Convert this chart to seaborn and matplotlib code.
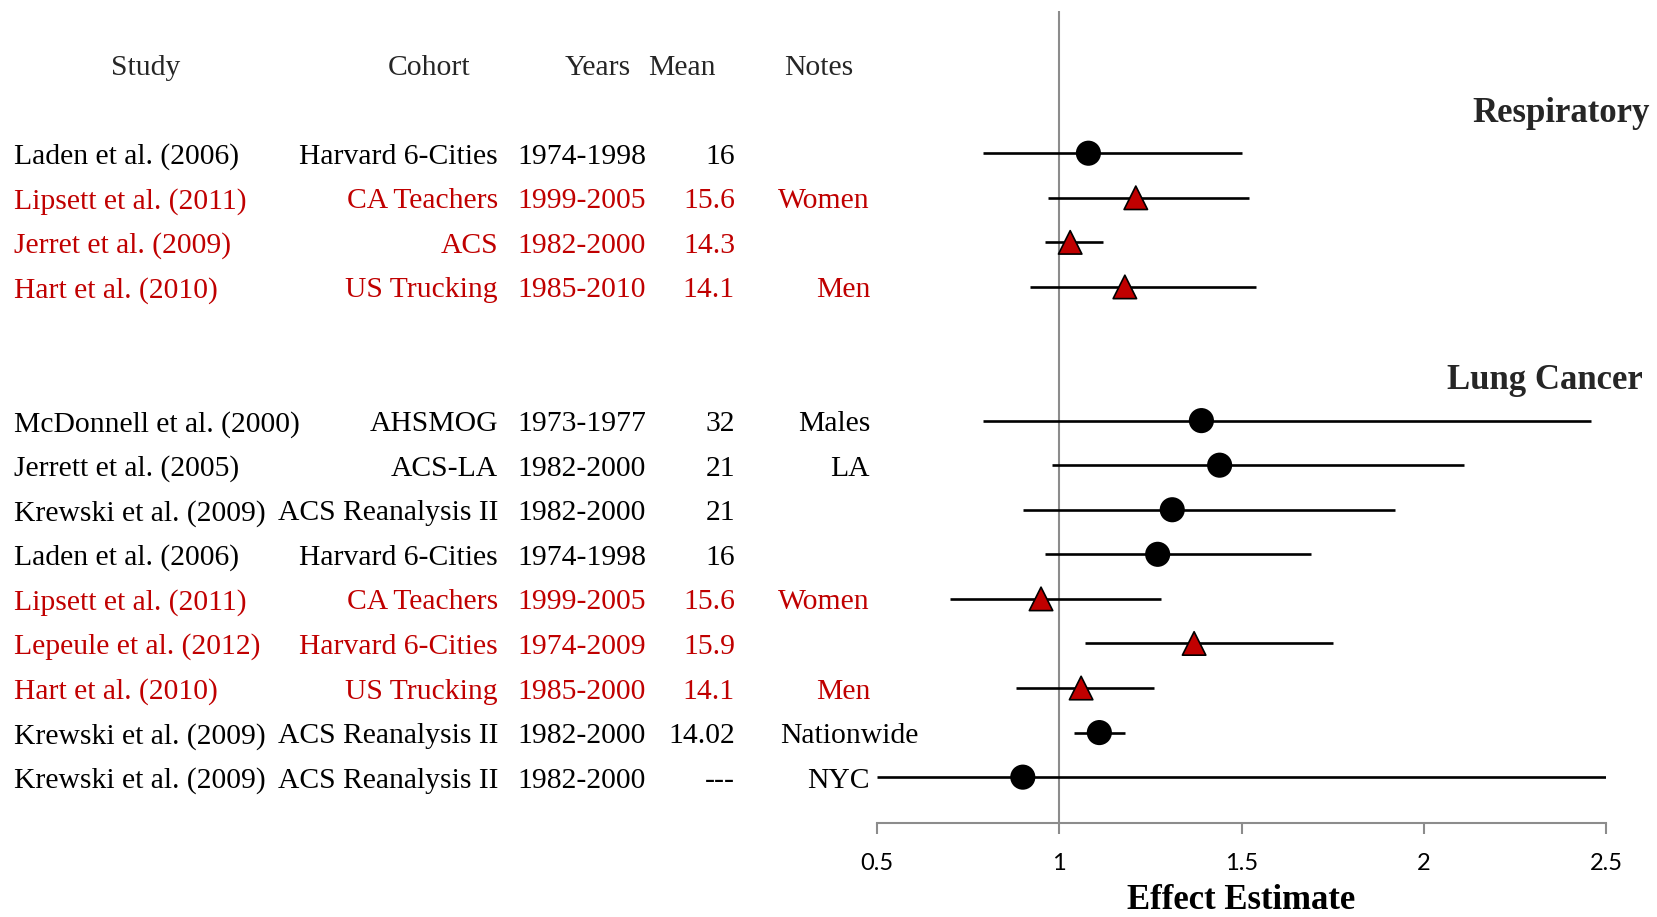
import matplotlib
matplotlib.use("Agg")
import matplotlib.pyplot as plt
import matplotlib.transforms as mtransforms
import numpy as np
import pandas as pd
import seaborn as sns

# ---- study table -------------------------------------------------------
outcome = ["Respiratory"] * 4 + ["Lung Cancer"] * 9
studies = [
    "Laden et al. (2006)", "Lipsett et al. (2011)", "Jerret et al. (2009)", "Hart et al. (2010)",
    "McDonnell et al. (2000)", "Jerrett et al. (2005)", "Krewski et al. (2009)",
    "Laden et al. (2006)", "Lipsett et al. (2011)", "Lepeule et al. (2012)",
    "Hart et al. (2010)", "Krewski et al. (2009)", "Krewski et al. (2009)",
]
cohorts = [
    "Harvard 6-Cities", "CA Teachers", "ACS", "US Trucking",
    "AHSMOG", "ACS-LA", "ACS Reanalysis II", "Harvard 6-Cities", "CA Teachers",
    "Harvard 6-Cities", "US Trucking", "ACS Reanalysis II", "ACS Reanalysis II",
]
years = [
    "1974-1998", "1999-2005", "1982-2000", "1985-2010",
    "1973-1977", "1982-2000", "1982-2000", "1974-1998", "1999-2005",
    "1974-2009", "1985-2000", "1982-2000", "1982-2000",
]
means = ["16", "15.6", "14.3", "14.1",
         "32", "21", "21", "16", "15.6", "15.9", "14.1", "14.02", "---"]
notes = ["", "Women", "", "Men",
         "Males", "LA", "", "", "Women", "", "Men", "Nationwide", "NYC"]
estimate = [1.08, 1.21, 1.03, 1.18,
            1.39, 1.44, 1.31, 1.27, 0.95, 1.37, 1.06, 1.11, 0.90]
lower = [0.79, 0.97, 0.96, 0.92,
         0.79, 0.98, 0.90, 0.96, 0.70, 1.07, 0.88, 1.04, 0.50]
upper = [1.50, 1.52, 1.12, 1.54,
         2.46, 2.11, 1.92, 1.69, 1.28, 1.75, 1.26, 1.18, 2.50]
highlight = [False, True, True, True,
             False, False, False, False, True, True, True, False, False]

headers = ["Study", "Cohort", "Years", "Mean", "Notes"]
groups = ["Respiratory", "Lung Cancer"]
x_ticks = [0.5, 1, 1.5, 2, 2.5]

df = pd.DataFrame({
    "outcome": outcome, "study": studies, "cohort": cohorts, "years": years,
    "mean": means, "notes": notes, "estimate": estimate,
    "lower": lower, "upper": upper, "highlight": highlight,
})

# rows: the two outcome blocks are separated by a gap of two rows
row = []
r = 0
for i, g in enumerate(df["outcome"]):
    if i > 0 and g != df["outcome"][i - 1]:
        r += 2
    row.append(r)
    r += 1
df["row"] = row
df["kind"] = np.where(df["highlight"], "red", "black")

RED = "#C00000"
W, H = 1658, 917
serif = ["Liberation Serif", "DejaVu Serif"]

sns.set_theme(style="white")
plt.rcParams["font.family"] = serif

fig = plt.figure(figsize=(W / 100, H / 100), dpi=100)
ax = fig.add_axes([877 / W, 1 - 822.6 / H, (1606 - 877) / W, (822.6 - 10.6) / H])

# confidence intervals
ax.hlines(df["row"], df["lower"], df["upper"], color="black", lw=1.9, zorder=2)

# point estimates
sns.scatterplot(
    data=df, x="estimate", y="row", hue="kind", style="kind",
    palette={"black": "black", "red": RED},
    markers={"black": "o", "red": "^"},
    s=285, edgecolor="black", linewidth=1.2, legend=False, ax=ax, zorder=3,
)

ax.axvline(1, color="#8C8C8C", lw=1.5, zorder=1)
ax.set_xlim(0.5, 2.5)
ax.set_ylim(15.02, -3.2)
ax.set_xticks(x_ticks)
ax.set_xticklabels([f"{t:g}" for t in x_ticks], fontfamily="Lato", fontsize=17,
                   color="black")
ax.set_yticks([])
for side in ["left", "right", "top"]:
    ax.spines[side].set_visible(False)
ax.spines["bottom"].set_color("#8C8C8C")
ax.spines["bottom"].set_linewidth(1.5)
ax.tick_params(axis="x", direction="out", length=8, width=1.5, color="#8C8C8C",
               pad=14, bottom=True)
ax.set_xlabel("Effect Estimate", fontsize=25, fontweight="bold", labelpad=7,
              color="black")
ax.set_ylabel("")

# ---- text table on the left ---------------------------------------------
tr = mtransforms.blended_transform_factory(fig.transFigure, ax.transData)
fs = 21.3
dy = 0.08  # small downward nudge so glyphs sit centred on their row

header_x = [146, 429, 598, 682, 819]
for h, hx in zip(headers, header_x):
    ax.text(hx / W, -2 + dy, h, transform=tr, ha="center", va="center",
            fontsize=fs, clip_on=False)

for _, d in df.iterrows():
    c = RED if d["highlight"] else "black"
    y = d["row"] + dy
    ax.text(13.7 / W, y, d["study"], transform=tr, ha="left", va="center",
            fontsize=fs, color=c, clip_on=False)
    ax.text(498 / W, y, d["cohort"], transform=tr, ha="right", va="center",
            fontsize=fs, color=c, clip_on=False)
    ax.text(517 / W, y, d["years"], transform=tr, ha="left", va="center",
            fontsize=fs, color=c, clip_on=False)
    ax.text(735 / W, y, d["mean"], transform=tr, ha="right", va="center",
            fontsize=fs, color=c, clip_on=False)
    if d["notes"]:
        if len(d["notes"]) > 6:
            ax.text(780 / W, y, d["notes"], transform=tr, ha="left", va="center",
                    fontsize=fs, color=c, clip_on=False)
        else:
            ax.text(870 / W, y, d["notes"], transform=tr, ha="right", va="center",
                    fontsize=fs, color=c, clip_on=False)

# outcome block titles
title_right = {"Respiratory": 1650, "Lung Cancer": 1643}
for g in groups:
    first = df.loc[df["outcome"] == g, "row"].min()
    ax.text(title_right[g] / W, first - 1 + 0.1, g, transform=tr, ha="right",
            va="center", fontsize=25, fontweight="bold", clip_on=False)

fig.savefig("out.png", dpi=100)
